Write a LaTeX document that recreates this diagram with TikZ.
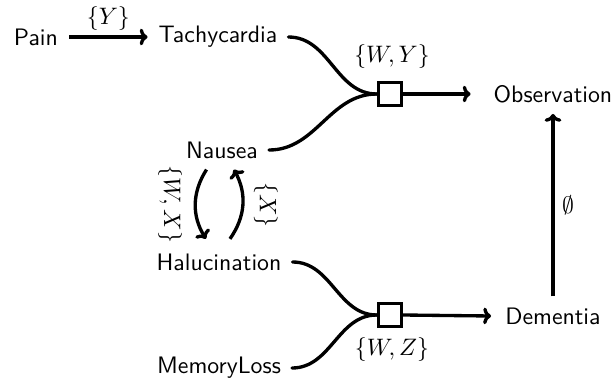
\documentclass[tikz,border=0pt]{standalone}
\usetikzlibrary{arrows.meta}
\begin{document}
\begin{tikzpicture}[x=0.42pt, y=-0.42pt,
  var/.style={font=\sffamily, inner sep=4.5pt},
  factor/.style={draw, line width=1.4pt, fill=white, minimum size=9.7pt, inner sep=0pt},
  link/.style={line width=1.4pt, line cap=round},
  arr/.style={line width=1.4pt, -{To[length=3.3pt,width=7pt]}},
  lbl/.style={inner sep=2pt}]
  \useasboundingbox (0,0) rectangle (614,383);

  % variables
  \node[var] (pain)   at (36,37)   {Pain};
  \node[var] (tachy)  at (218,37)  {Tachycardia};
  \node[var] (nausea) at (222,150) {Nausea};
  \node[var] (hal)    at (219,262) {Halucination};
  \node[var] (mem)    at (219,368) {MemoryLoss};
  \node[var] (obs)    at (553,94)  {Observation};
  \node[var] (dem)    at (553,316) {Dementia};

  % factor boxes
  \node[factor] (f1) at (390,94)  {};
  \node[factor] (f2) at (390,315) {};

  % labels
  \node[lbl] (lwy) at (392,57)  {$\{W,Y\}$};
  \node[lbl] (lwz) at (392,350) {$\{W,Z\}$};
  \node[lbl] (lem) at (568,205) {$\emptyset$};

  % edges
  \draw[arr] (pain) -- node[above, lbl] {$\{Y\}$} (tachy);

  \draw[link] (tachy.east) to[out=0, in=180] (f1.west);
  \draw[link] (nausea.east) to[out=0, in=180] (f1.west);
  \draw[arr] (f1.east) -- ([xshift=-5pt]obs.west);

  \draw[link] (hal.east) to[out=0, in=180] (f2.west);
  \draw[link] (mem.east) to[out=0, in=180] (f2.west);
  \draw[arr] (f2.east) -- ([xshift=-1.3pt]dem.west);

  \draw[arr] (dem.north) -- (obs.south);

  % cycle between Nausea and Halucination
  \draw[arr] ([xshift=-6.5pt]nausea.south) to[bend right=32]
    node[midway, anchor=north, rotate=-90, inner sep=5pt] {$\{W,X\}$}
    ([xshift=-5.5pt,yshift=1.5pt]hal.north);
  \draw[arr] ([xshift=4.6pt,yshift=1.5pt]hal.north) to[bend right=32]
    node[midway, anchor=south, rotate=-90, inner sep=4pt] {$\{X\}$}
    ([xshift=5pt]nausea.south);
\end{tikzpicture}
\end{document}
